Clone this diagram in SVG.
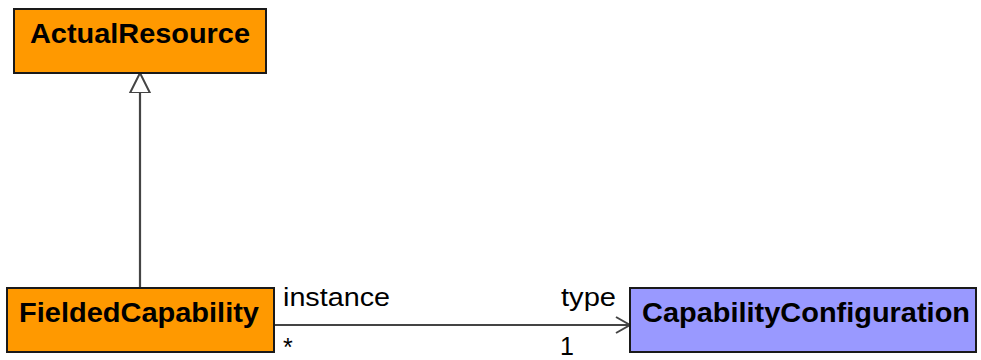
<svg xmlns="http://www.w3.org/2000/svg" width="981" height="360" viewBox="0 0 981 360">
<style>
.box{stroke:#1a1a1a;stroke-width:2}
.orange{fill:#ff9900}
.blue{fill:#9999ff}
.name{font-family:"Liberation Sans",Arial,sans-serif;font-weight:bold;font-size:28px;fill:#000}
.lbl{font-family:"Liberation Sans",Arial,sans-serif;font-size:25px;fill:#000}
.edge{stroke:#444;stroke-width:2.2;fill:none}
</style>
<defs>
<marker id="gen" markerWidth="24" markerHeight="24" refX="20" refY="10" orient="auto" markerUnits="userSpaceOnUse" viewBox="0 0 24 20">
<path d="M0,0 L20,10 L0,20 Z" fill="#fff" stroke="#444" stroke-width="2"/>
</marker>
<marker id="open" markerWidth="20" markerHeight="20" refX="15" refY="9" orient="auto" markerUnits="userSpaceOnUse" viewBox="0 0 20 18">
<path d="M1,1 L15,9 L1,17" fill="none" stroke="#444" stroke-width="2"/>
</marker>
</defs>
<g id="connectors">
<line class="edge" x1="140" y1="288" x2="140" y2="73" marker-end="url(#gen)"/>
<line class="edge" x1="274" y1="325" x2="630" y2="325" marker-end="url(#open)"/>
<text class="lbl" x="283" y="356">*</text>
<text class="lbl" x="560" y="355">1</text>
<text class="lbl" x="283" y="306" textLength="107" lengthAdjust="spacingAndGlyphs">instance</text>
<text class="lbl" x="561" y="306" textLength="55" lengthAdjust="spacingAndGlyphs">type</text>
</g>
<g id="ActualResource">
<rect class="box orange" x="14" y="9" width="252" height="64"/>
<text class="name" x="140" y="43" text-anchor="middle" textLength="220" lengthAdjust="spacingAndGlyphs">ActualResource</text>
</g>
<g id="FieldedCapability">
<rect class="box orange" x="7" y="288" width="267" height="64"/>
<text class="name" x="139" y="322" text-anchor="middle" textLength="240" lengthAdjust="spacingAndGlyphs">FieldedCapability</text>
</g>
<g id="CapabilityConfiguration">
<rect class="box blue" x="630" y="288" width="346" height="64"/>
<text class="name" x="806" y="322" text-anchor="middle" textLength="328" lengthAdjust="spacingAndGlyphs">CapabilityConfiguration</text>
</g>
</svg>
